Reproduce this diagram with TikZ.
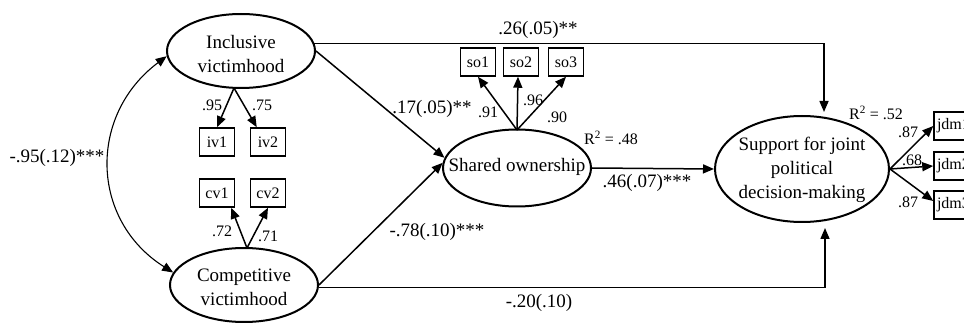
\documentclass[tikz,border=0pt]{standalone}
\usepackage{fontspec}
\setmainfont{Liberation Serif}
\usetikzlibrary{shapes.geometric,arrows.meta,calc}
\begin{document}
\begin{tikzpicture}[x=1pt,y=-1pt,
  lat/.style={draw,ellipse,line width=2pt,inner sep=0pt},
  lattext/.style={align=center,inner sep=0pt,font=\fontsize{19}{24}\selectfont},
  obs/.style={draw,rectangle,line width=1.5pt,inner sep=0pt,minimum width=35pt,minimum height=28pt,font=\fontsize{16}{18}\selectfont},
  arr/.style={line width=1.5pt,-{Triangle[length=11pt,width=9pt]}},
  big/.style={font=\fontsize{19}{22}\selectfont,inner sep=0pt},
  sml/.style={font=\fontsize{16}{18}\selectfont,inner sep=0pt}]
\clip (0,0) rectangle (964,323);
\useasboundingbox (0,0) rectangle (964,323);

% latent variables
\node[lat,minimum width=148pt,minimum height=74pt] (inc) at (241,51) {};
\node[lattext] (incT) at (241,54) {Inclusive\\victimhood};
\node[lat,minimum width=148pt,minimum height=74pt] (comp) at (244,285) {};
\node[lattext] (compT) at (244,287) {Competitive\\victimhood};
\node[lat,minimum width=148pt,minimum height=77pt] (sh) at (517,168) {};
\node[lattext] (shT) at (517,167) {Shared ownership};
\node[lat,minimum width=174pt,minimum height=106pt] (sup) at (802,169) {};
\node[lattext] (supT) at (802,170) {Support for joint\\political\\decision-making};

% observed indicators
\node[obs] (iv1) at (217,142) {iv1};
\node[obs] (iv2) at (268,142) {iv2};
\node[obs] (cv1) at (217,193) {cv1};
\node[obs] (cv2) at (268,193) {cv2};
\node[obs] (so1) at (478,62) {so1};
\node[obs] (so2) at (521,62) {so2};
\node[obs] (so3) at (566,62) {so3};
\node[obs,minimum width=40pt,text width=34pt,align=left] (jdm1) at (954,126) {jdm1};
\node[obs,minimum width=40pt,text width=34pt,align=left] (jdm2) at (954,166) {jdm2};
\node[obs,minimum width=40pt,text width=34pt,align=left] (jdm3) at (954,205) {jdm3};

% fan points
\coordinate (incF) at (234,88);
\coordinate (compF) at (247,248);
\coordinate (shF) at (517,130);
\coordinate (supTop) at (824,112);
\coordinate (supBot) at (825,228);

% loadings
\draw[arr] (incF) -- (iv1.north);
\draw[arr] (incF) -- ($(iv2.north west)+(7,0)$);
\draw[arr] (compF) -- ($(cv1.south east)+(-4,0)$);
\draw[arr] (compF) -- (cv2.south);
\draw[arr] (shF) -- (so1.south);
\draw[arr] (shF) -- ($(so2.south)+(-3,0)$);
\draw[arr] (shF) -- (so3.south);
\draw[arr] (sup.east) -- (jdm1.west);
\draw[arr] (sup.east) -- (jdm2.west);
\draw[arr] (sup.east) -- ($(jdm3.west)+(0,-4)$);

% structural paths
\draw[arr] (inc.6) -| (supTop);
\draw[arr] (comp.-2) -| (supBot);
\draw[arr] (inc.east) -- (sh.172);
\draw[arr] (comp.east) -- (sh.176);
\draw[arr] (sh.east) -- (sup.west);
\draw[line width=1.1pt,{Triangle[length=11pt,width=9pt]}-{Triangle[length=11pt,width=9pt]}]
  (inc.184) .. controls (88,115) and (90,220) .. (comp.170);

% path labels
\node[big] (l26) at (538,30) {.26(.05)**};
\node[big] (l17) at (432,109) {.17(.05)**};
\node[big] (l78) at (437,232) {-.78(.10)***};
\node[big] (l46) at (647,183) {.46(.07)***};
\node[big] (l20) at (539,303) {-.20(.10)};
\node[big] (l95c) at (57,158) {-.95(.12)***};

% loading labels
\node[sml] (l95) at (212,105) {.95};
\node[sml] (l75) at (262,105) {.75};
\node[sml] (l72) at (222,231) {.72};
\node[sml] (l71) at (268,236) {.71};
\node[sml] (l91) at (488,112) {.91};
\node[sml] (l96) at (533,100) {.96};
\node[sml] (l90) at (557,117) {.90};
\node[sml] (ja) at (908,132) {.87};
\node[sml] (jb) at (912,160) {.68};
\node[sml] (jc) at (908,202) {.87};

% R squared
\node[sml] (r48) at (611,138) {R\textsuperscript{2} = .48};
\node[sml] (r52) at (876,113) {R\textsuperscript{2} = .52};
\end{tikzpicture}
\end{document}
